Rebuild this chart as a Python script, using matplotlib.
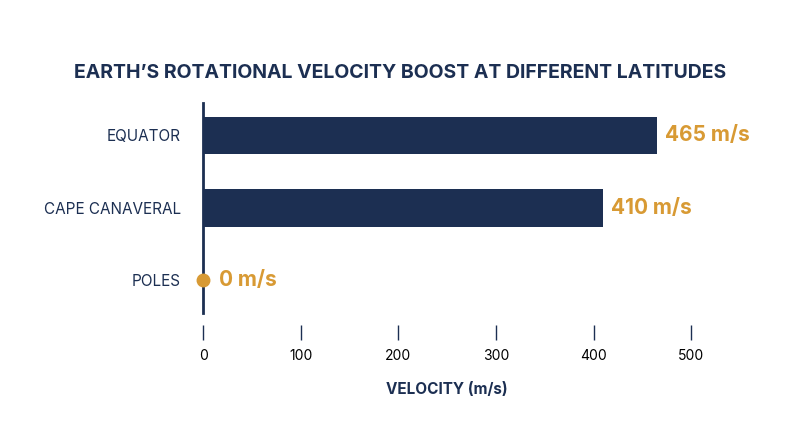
import matplotlib.pyplot as plt

categories = ["EQUATOR", "CAPE CANAVERAL", "POLES"]
values = [465, 410, 0]
labels = ["465 m/s", "410 m/s", "0 m/s"]
xticks = [0, 100, 200, 300, 400, 500]

navy = "#1c2f52"
orange = "#d89a34"
plt.rcParams['font.family'] = ['Inter', 'DejaVu Sans']

fig = plt.figure(figsize=(8, 4.47), dpi=100)
ax = fig.add_axes([0.254, 0.300, 0.610, 0.470])
pos = list(range(len(categories)))
ax.barh(pos, values, height=0.52, color=navy)
for p, v, l in zip(pos, values, labels):
    if v == 0:
        ax.plot([0], [p], 'o', color=orange, ms=9, clip_on=False, zorder=5)
    ax.text(v + 8 if v else 16, p, l, color=orange, fontsize=15, fontweight='bold', va='center', ha='left')
ax.set_ylim(2.45, -0.45)
ax.set_xlim(0, 500)
ax.set_yticks(pos)
ax.set_yticklabels(categories, fontsize=11, color=navy)
ax.tick_params(axis='y', length=0, pad=16)
ax.set_xticks(xticks)
ax.set_xticklabels([str(t) for t in xticks], fontsize=12, color=navy)
ax.tick_params(axis='x', length=11, color=navy, pad=6, width=1)
for s in ['top', 'right']:
    ax.spines[s].set_visible(False)
ax.spines['bottom'].set_position(('outward', 9))
ax.spines['bottom'].set_visible(False)
ax.spines['left'].set_color(navy)
ax.spines['left'].set_linewidth(2)
ax.set_xlabel("VELOCITY (m/s)", fontsize=11, fontweight='bold', color=navy, labelpad=14)
fig.text(0.5, 0.837, "EARTH\u2019S ROTATIONAL VELOCITY BOOST AT DIFFERENT LATITUDES",
         ha='center', va='center', fontsize=14, fontweight='bold', color=navy)
fig.savefig("out.png", dpi=100, facecolor='white')
